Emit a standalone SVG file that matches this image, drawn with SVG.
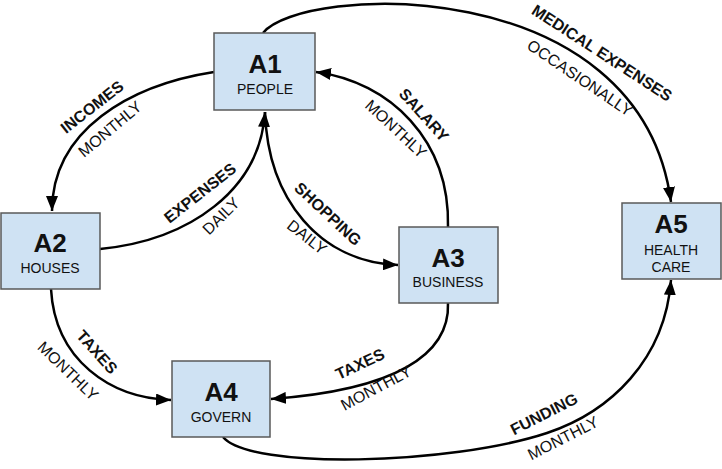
<svg xmlns="http://www.w3.org/2000/svg" width="722" height="469" viewBox="0 0 722 469">
<style>
.box{fill:#cfe2f3;stroke:#595959;stroke-width:1.5}
.t{font-family:"Liberation Sans",Arial,sans-serif;fill:#111;text-anchor:middle}
.big{font-size:26px;font-weight:bold}
.sub{font-size:14px}
.lb{font-size:16px;font-weight:bold;dominant-baseline:central}
.lr{font-size:16px;dominant-baseline:central}
.c{fill:none;stroke:#000;stroke-width:2.5;marker-end:url(#ah)}
</style>
<defs>
<marker id="ah" markerUnits="userSpaceOnUse" markerWidth="16" markerHeight="12" refX="15" refY="6" orient="auto">
<path d="M0,0 L15,6 L0,12 z" fill="#000"/>
</marker>
</defs>
<rect width="722" height="469" fill="#fff"/>
<g id="connectors">
<path class="c" d="M214,72 C130,85 52,130 52,211"/>
<path class="c" d="M100,249 C190,240 260,190 265,112"/>
<path class="c" d="M265,112 C268,200 320,262 398,265"/>
<path class="c" d="M448,227 C450,140 390,82 316,72"/>
<path class="c" d="M263,33 C300,-15 640,-30 671,202"/>
<path class="c" d="M51,289 C55,360 110,398 171,400"/>
<path class="c" d="M448,303 C450,355 395,390 271,399"/>
<path class="c" d="M223,437 C250,470 450,465 547,433 C610,412 665,360 671,280"/>
</g>
<g id="labels">
<text class="t lb" transform="translate(92,107) rotate(-38)">INCOMES</text>
<text class="t lr" transform="translate(110,129) rotate(-40)">MONTHLY</text>
<text class="t lb" transform="translate(200,193) rotate(-38)">EXPENSES</text>
<text class="t lr" transform="translate(221,216) rotate(-45)">DAILY</text>
<text class="t lb" transform="translate(424,115) rotate(48)">SALARY</text>
<text class="t lr" transform="translate(396,129) rotate(43)">MONTHLY</text>
<text class="t lb" transform="translate(328,214) rotate(43)">SHOPPING</text>
<text class="t lr" transform="translate(307,237) rotate(38)">DAILY</text>
<text class="t lb" transform="translate(602,53) rotate(33)">MEDICAL EXPENSES</text>
<text class="t lr" transform="translate(580,78) rotate(34)">OCCASIONALLY</text>
<text class="t lb" transform="translate(97,352) rotate(48)">TAXES</text>
<text class="t lr" transform="translate(68,371) rotate(44)">MONTHLY</text>
<text class="t lb" transform="translate(360,364) rotate(-25)">TAXES</text>
<text class="t lr" transform="translate(376,388) rotate(-28)">MONTHLY</text>
<text class="t lb" transform="translate(544,414) rotate(-27)">FUNDING</text>
<text class="t lr" transform="translate(563,438) rotate(-27)">MONTHLY</text>
</g>
<g id="A1">
<rect class="box" x="214" y="33" width="101" height="77"/>
<text class="t big" x="265" y="73">A1</text>
<text class="t sub" x="265" y="94">PEOPLE</text>
</g>
<g id="A2">
<rect class="box" x="1" y="213" width="99" height="76"/>
<text class="t big" x="50" y="252">A2</text>
<text class="t sub" x="50" y="273">HOUSES</text>
</g>
<g id="A3">
<rect class="box" x="399" y="227" width="99" height="76"/>
<text class="t big" x="448" y="267">A3</text>
<text class="t sub" x="448" y="287">BUSINESS</text>
</g>
<g id="A4">
<rect class="box" x="172" y="361" width="98" height="76"/>
<text class="t big" x="221" y="401">A4</text>
<text class="t sub" x="221" y="422">GOVERN</text>
</g>
<g id="A5">
<rect class="box" x="622" y="203" width="99" height="76"/>
<text class="t big" x="671" y="233">A5</text>
<text class="t sub" x="671" y="255">HEALTH</text>
<text class="t sub" x="671" y="272">CARE</text>
</g>
</svg>
